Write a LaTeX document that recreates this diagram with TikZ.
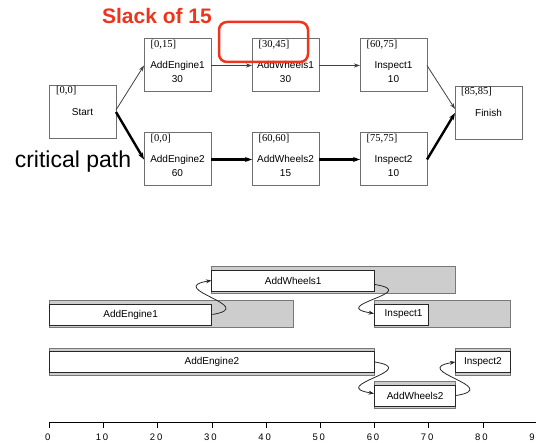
\documentclass[tikz,border=0pt]{standalone}
\usepackage{fontspec}
\setmainfont{Liberation Sans}
\newfontfamily\serifface{Liberation Serif}
\newfontfamily\axisface[LetterSpace=20]{Liberation Sans}
\usetikzlibrary{arrows.meta,fit}

\definecolor{slackred}{RGB}{240,52,28}
\definecolor{boxline}{RGB}{110,110,110}
\definecolor{barfill}{RGB}{205,205,205}
\definecolor{barline}{RGB}{120,120,120}

\tikzset{
  netbox/.style={draw=boxline, line width=1pt, minimum width=67pt, minimum height=53pt,
                 inner sep=0pt, outer sep=0pt},
  nettext/.style={font=\fontsize{10}{12}\selectfont, anchor=base, inner sep=0pt},
  windowtext/.style={font=\serifface\fontsize{10.5}{12}\selectfont, anchor=base west, inner sep=0pt},
  thinedge/.style={draw=black!75, line width=0.8pt, -{Stealth[length=6pt,width=4pt]}},
  critedge/.style={draw=black, line width=2.4pt, -{Stealth[length=7pt,width=5pt]}},
  slackbar/.style={fill=barfill, draw=barline, line width=1pt},
  workbar/.style={fill=white, draw=black!85, line width=0.9pt, inner sep=0pt},
  bartext/.style={font=\fontsize{10}{12}\selectfont, inner sep=0pt},
  seqarrow/.style={draw=black!85, line width=0.8pt, -{Stealth[length=5.5pt,width=4pt]}},
  axislabel/.style={font=\axisface\fontsize{9.5}{11}\selectfont, anchor=base, inner sep=0pt},
}

% task box of the activity network: name, left, top, window, title, duration
\newcommand\netnode[6]{%
  \node[netbox] (#1) at ({#2+33.5},{#3+26.5}) {};
  \node[windowtext] (#1-win) at ([xshift=6.5pt,yshift=-8.5pt]#1.north west) {#4};
  \node[nettext] (#1-name) at ([yshift=-30pt]#1.north) {#5};
  \node[nettext] (#1-dur) at ([yshift=-43.5pt]#1.north) {#6};}

\begin{document}
\begin{tikzpicture}[x=1pt, y=-1pt]
\useasboundingbox (0,0) rectangle (536,443);
\clip (0,0) rectangle (536,443);

% ---------------- activity network ----------------
\node[netbox] (start) at (82.5,112) {};
\node[windowtext] (start-win) at ([xshift=7pt,yshift=-8.5pt]start.north west) {[0,0]};
\node[nettext] (start-name) at ([yshift=-30pt]start.north) {Start};

\netnode{ae1}{144}{39}{[0,15]}{AddEngine1}{30}
\netnode{ae2}{144}{133}{[0,0]}{AddEngine2}{60}
\netnode{aw1}{252}{39}{[30,45]}{AddWheels1}{30}
\netnode{aw2}{252}{133}{[60,60]}{AddWheels2}{15}
\netnode{in1}{360}{39}{[60,75]}{Inspect1}{10}
\netnode{in2}{360}{133}{[75,75]}{Inspect2}{10}

\node[netbox] (fin) at (488.5,113) {};
\node[windowtext] (fin-win) at ([xshift=6pt,yshift=-8.5pt]fin.north west) {[85,85]};
\node[nettext] (fin-name) at ([yshift=-30pt]fin.north) {Finish};

\draw[thinedge] ([yshift=2pt]start.east) -- (ae1.west);
\draw[critedge] (start.east) -- (ae2.west);
\draw[thinedge] (ae1.east) -- (aw1.west);
\draw[critedge] (ae2.east) -- (aw2.west);
\draw[thinedge] (aw1.east) -- (in1.west);
\draw[critedge] (aw2.east) -- (in2.west);
\draw[thinedge] (in1.east) -- ([yshift=4pt]fin.west);
\draw[critedge] (in2.east) -- (fin.west);

\node[font=\fontsize{23}{26}\selectfont, anchor=base, inner sep=0pt] (critlabel)
  at (73,168) {critical path};

% ---------------- schedule bars ----------------
\begin{scope}[xshift=49.3pt, x=5.42pt]
  \path[slackbar] (30,267) rectangle (75,294);
  \path[slackbar] (0,301) rectangle (45,328);
  \path[slackbar] (60,301) rectangle (85,328);
  \path[slackbar] (0,348.5) rectangle (60,375.5);
  \path[slackbar] (75,348.5) rectangle (85,375.5);
  \path[slackbar] (60,382) rectangle (75,409);

  \node[workbar, fit={(30,270) (60,291)}] (g-aw1) {};
  \node[workbar, fit={(0,304) (30,325)}] (g-ae1) {};
  \node[workbar, fit={(60,304) (70,325)}] (g-in1) {};
  \node[workbar, fit={(0,351.5) (60,372.5)}] (g-ae2) {};
  \node[workbar, fit={(75,351.5) (85,372.5)}] (g-in2) {};
  \node[workbar, fit={(60,385) (75,406)}] (g-aw2) {};

  % time axis
  \draw[line width=0.8pt] (0,422) -- (95,422);
  \foreach \t in {0,10,...,90} {
    \draw[line width=0.8pt] (\t,422) -- (\t,428);
    \node[axislabel] (tick-\t) at ([xshift=-1.5pt]\t,441) {\t};
  }
\end{scope}

\node[bartext] (t-aw1) at (g-aw1.center) {AddWheels1};
\node[bartext] (t-ae1) at (g-ae1.center) {AddEngine1};
\node[bartext] (t-in1) at ([xshift=2pt]g-in1.center) {Inspect1};
\node[bartext] (t-ae2) at (g-ae2.center) {AddEngine2};
\node[bartext] (t-in2) at (g-in2.center) {Inspect2};
\node[bartext] (t-aw2) at (g-aw2.center) {AddWheels2};

\draw[seqarrow] (g-ae1.east) .. controls +(48,-8) and +(-48,8) .. (g-aw1.west);
\draw[seqarrow] ([yshift=-4pt]g-aw1.east) .. controls +(48,8) and +(-48,-8) .. ([yshift=1pt]g-in1.west);
\draw[seqarrow] (g-ae2.east) .. controls +(48,8) and +(-48,-8) .. ([yshift=2pt]g-aw2.west);
\draw[seqarrow] (g-aw2.east) .. controls +(48,-8) and +(-48,8) .. (g-in2.west);

% ---------------- slack annotation ----------------
\node[font=\bfseries\fontsize{21}{24}\selectfont, text=slackred, anchor=base, inner sep=0pt]
  (slacklabel) at (157,24) {Slack of 15};
\draw[slackred, line width=2.5pt, rounded corners=8pt] (219,22) rectangle (308,62);
\end{tikzpicture}
\end{document}
